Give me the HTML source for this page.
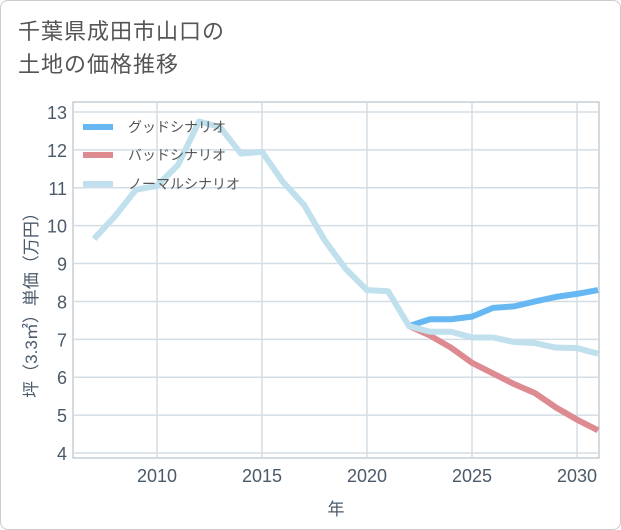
<!DOCTYPE html>
<html><head><meta charset="utf-8"><style>
body{margin:0;background:#fff;font-family:"Liberation Sans","Noto Sans CJK JP",sans-serif;}
#card{position:absolute;left:0;top:0;width:619px;height:528px;border:1px solid #ccc;border-radius:8px;background:#fff;overflow:hidden}
#title{position:absolute;left:17px;top:14px;font-size:22px;line-height:33px;color:#555;letter-spacing:1px}
</style></head><body>
<div id="card">
<div id="title">千葉県成田市山口の<br>土地の価格推移</div>
<svg id="chart" width="621" height="530" style="position:absolute;left:0;top:0"></svg>
</div>
<script>
const years=[2007,2008,2009,2010,2011,2012,2013,2014,2015,2016,2017,2018,2019,2020,2021,2022,2023,2024,2025,2026,2027,2028,2029,2030,2031];
const normal=[9.65,10.25,10.95,11.05,11.6,12.75,12.6,11.9,11.95,11.15,10.55,9.6,8.85,8.3,8.27,7.35,7.2,7.2,7.05,7.05,6.93,6.9,6.78,6.77,6.62];
const futureYears=[2022,2023,2024,2025,2026,2027,2028,2029,2030,2031];
const good=[7.35,7.53,7.53,7.6,7.83,7.87,8.0,8.12,8.2,8.3];
const bad=[7.35,7.1,6.78,6.38,6.1,5.82,5.58,5.2,4.88,4.6];
const yTicks=[4,5,6,7,8,9,10,11,12,13];
const xTicks=[2010,2015,2020,2025,2030];
const NS='http://www.w3.org/2000/svg';
const svg=document.getElementById('chart');
const L=72,R=598,T=101,B=457;
const xs=v=>156+(v-2010)*21;
const ys=v=>452-(v-4)*(341/9);
function mk(t,a){const e=document.createElementNS(NS,t);for(const k in a)e.setAttribute(k,a[k]);svg.appendChild(e);return e;}
const frame=mk('rect',{x:L,y:T,width:R-L,height:B-T,fill:'none',stroke:'#aab4be','stroke-width':1});


yTicks.forEach(v=>{
 const g=mk('line',{x1:L,x2:R,y1:ys(v),y2:ys(v),stroke:'#d3dde6','stroke-width':1.5});
 
 
 const t=mk('text',{x:L-6,y:ys(v)+7,'text-anchor':'end','font-size':18,fill:'#4a5a6a'});
 t.textContent=v;
 
 
});
xTicks.forEach(v=>{
 const g=mk('line',{x1:xs(v),x2:xs(v),y1:T,y2:B,stroke:'#d3dde6','stroke-width':1.5});
 
 
 const t=mk('text',{x:xs(v),y:B+24,'text-anchor':'middle','font-size':18,fill:'#4a5a6a'});
 t.textContent=v;
 
 
});
const xt=mk('text',{x:335,y:514,'text-anchor':'middle','font-size':17,fill:'#4a5a6a'});
xt.textContent='年';


const yt=mk('text',{x:0,y:0,'text-anchor':'middle','font-size':17,fill:'#4a5a6a',transform:'translate(36,300) rotate(-90)'});
yt.textContent='坪（3.3㎡）単価（万円）';


function line(xv,yv,color,name){
 const p=mk('polyline',{points:xv.map((x,i)=>xs(x)+','+ys(yv[i])).join(' '),fill:'none',stroke:color,'stroke-width':6,'stroke-linejoin':'round'});
 
 
}
line(futureYears,bad,'#de8a91','bad-scenario-line');
line(futureYears,good,'#67b8f2','good-scenario-line');
line(years,normal,'#bfe0ec','normal-scenario-line');
const leg=[['グッドシナリオ','#67b8f2',126],['バッドシナリオ','#de8a91',154],['ノーマルシナリオ','#bfe0ec',183]];
leg.forEach(([n,c,y])=>{
 const s=mk('line',{x1:82,x2:112,y1:y,y2:y,stroke:c,'stroke-width':6});
 
 
 const t=mk('text',{x:127,y:y+5,'font-size':14,fill:'#555'});
 t.textContent=n;
 
 
});
</script>
</body></html>
